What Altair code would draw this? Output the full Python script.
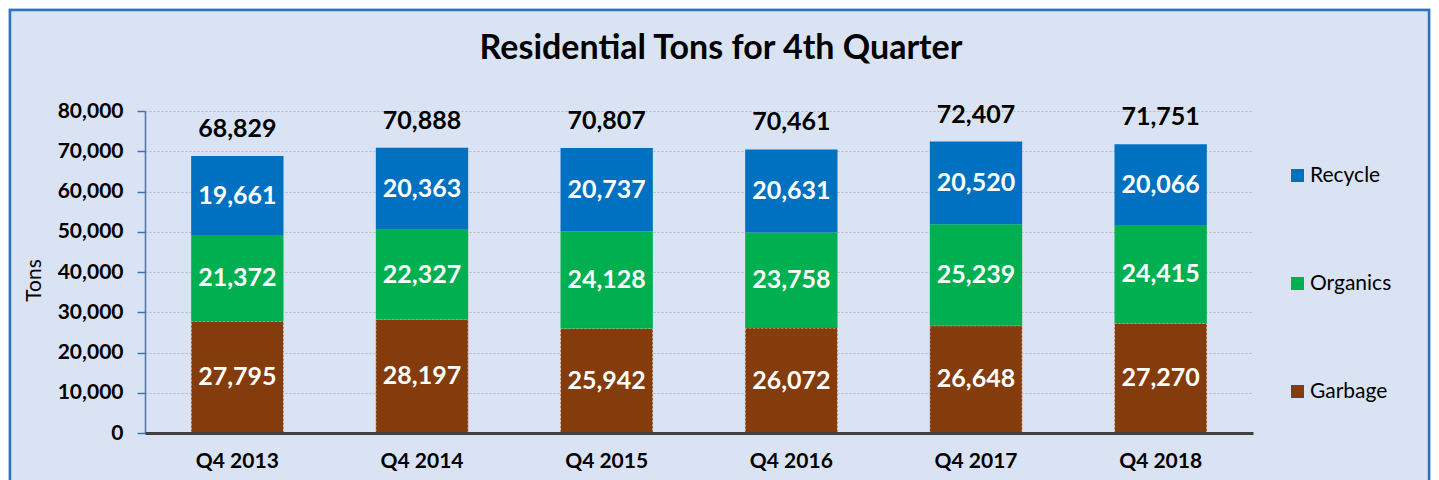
import altair as alt
import pandas as pd

quarters = ["Q4 2013", "Q4 2014", "Q4 2015", "Q4 2016", "Q4 2017", "Q4 2018"]
garbage = [27795, 28197, 25942, 26072, 26648, 27270]
organics = [21372, 22327, 24128, 23758, 25239, 24415]
recycle = [19661, 20363, 20737, 20631, 20520, 20066]
totals = [68829, 70888, 70807, 70461, 72407, 71751]

categories = ["Recycle", "Organics", "Garbage"]
colors = ["#0070c0", "#00b050", "#843c0c"]
y_ticks = [0, 10000, 20000, 30000, 40000, 50000, 60000, 70000, 80000]

rows = []
for i, q in enumerate(quarters):
    base = 0
    for cat, vals in (("Garbage", garbage), ("Organics", organics), ("Recycle", recycle)):
        v = vals[i]
        rows.append({"quarter": q, "category": cat, "value": v,
                     "low": base, "high": base + v, "mid": base + v / 2})
        base += v
df = pd.DataFrame(rows)
tot_df = pd.DataFrame({"quarter": quarters, "total": totals})

FONT = "Lato"

x_enc = alt.X("quarter:N", sort=quarters,
              scale=alt.Scale(paddingInner=0.5, paddingOuter=0.25),
              axis=alt.Axis(title=None, labelAngle=0, ticks=False,
                            labelFont=FONT, labelFontSize=21, labelFontWeight="bold",
                            labelColor="black", labelPadding=17,
                            domainColor="#404040", domainWidth=3, zindex=1))

y_scale = alt.Scale(domain=[0, 80000], nice=False)

bars = alt.Chart(df).mark_bar(strokeDash=[2, 2], strokeWidth=1).encode(
    x=x_enc,
    y=alt.Y("low:Q", scale=y_scale,
            axis=alt.Axis(values=y_ticks, labelExpr="format(datum.value, ',')", title="Tons",
                          labelFont=FONT, labelFontSize=21, labelFontWeight="bold",
                          labelColor="black", labelPadding=14,
                          tickSize=8, tickColor="#4472c4", tickWidth=1.5,
                          domainColor="#4472c4", domainWidth=1.5,
                          grid=True, gridColor="#b8b8b8", gridDash=[2, 2], gridWidth=1,
                          titleFont=FONT, titleFontSize=21, titleFontWeight="normal",
                          titleColor="black", titleX=-101, titleY=169)),
    y2="high:Q",
    color=alt.Color("category:N",
                    scale=alt.Scale(domain=categories, range=colors),
                    legend=alt.Legend(title=None, orient="none", legendX=1142, legendY=54,
                                      direction="vertical", symbolType="square",
                                      symbolSize=170, symbolStrokeWidth=0,
                                      labelFont=FONT, labelFontSize=21, labelColor="black",
                                      labelOffset=2, rowPadding=86, padding=0)),
    stroke=alt.condition(alt.datum.category == "Garbage",
                         alt.value("#e2cfc0"), alt.value("transparent")),
)

seg_labels = alt.Chart(df).mark_text(font=FONT, fontSize=25, fontWeight="bold",
                                     color="white", baseline="middle").encode(
    x=alt.X("quarter:N", sort=quarters),
    y=alt.Y("mid:Q", scale=y_scale),
    text=alt.Text("value:Q", format=","),
)

tot_labels = alt.Chart(tot_df).mark_text(font=FONT, fontSize=25, fontWeight="bold",
                                         color="black", baseline="middle", dy=-27).encode(
    x=alt.X("quarter:N", sort=quarters),
    y=alt.Y("total:Q", scale=y_scale),
    text=alt.Text("total:Q", format=","),
)

border = alt.Chart(pd.DataFrame({"a": [0]})).mark_rect(
    fillOpacity=0, stroke="#2e75b6", strokeWidth=2.5).encode(
    x=alt.value(-135), x2=alt.value(1108 + 176),
    y=alt.value(-101), y2=alt.value(500),
)

chart = alt.layer(bars, seg_labels, tot_labels, border).properties(
    width=1108, height=322,
    title=alt.TitleParams("Residential Tons for 4th Quarter", font=FONT, fontSize=34,
                          fontWeight="bold", color="black", anchor="middle",
                          frame="group", dx=22, dy=57, offset=0),
    autosize=alt.AutoSizeParams(type="none"),
    padding={"left": 137, "top": 103, "right": 178, "bottom": 47},
).configure(background="#dae3f3").configure_view(stroke=None)

chart.save("out.html", embed_options={"renderer": "svg", "actions": False})
